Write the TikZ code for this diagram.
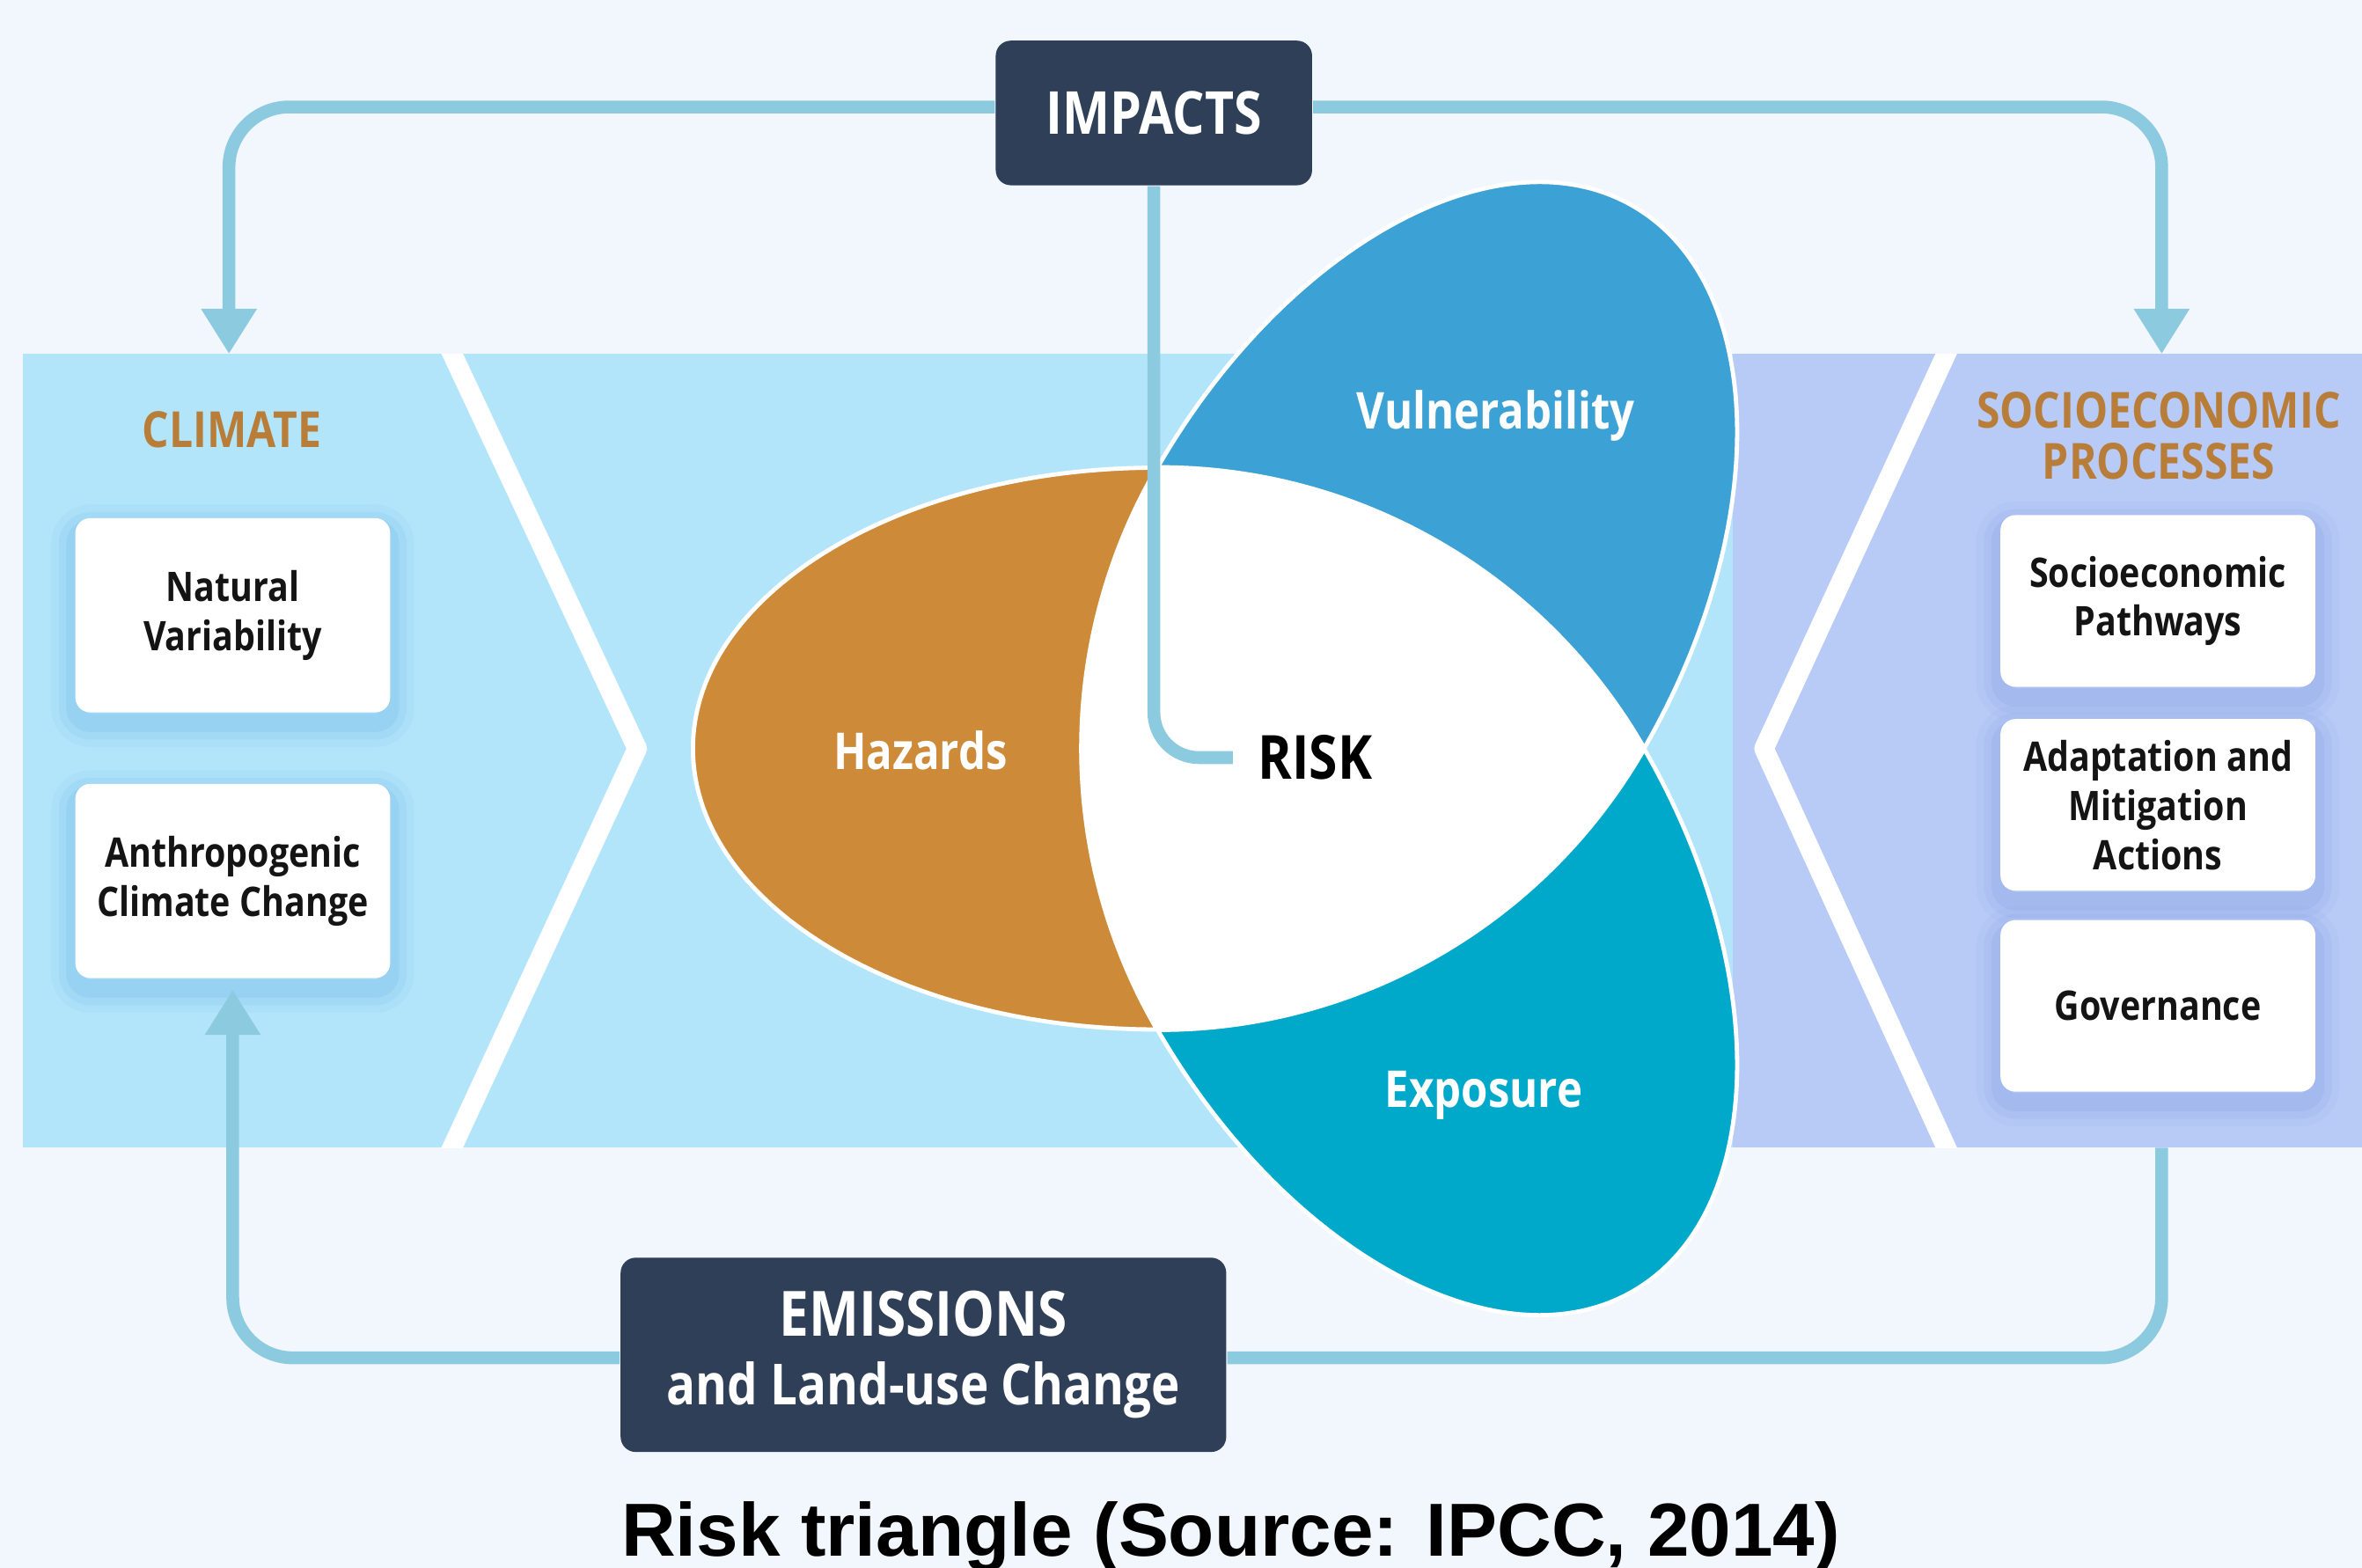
\documentclass[tikz,border=0pt]{standalone}
\usepackage{fontspec}
\setmainfont{Open Sans}[FakeStretch=0.85]
\newfontfamily\notefont{Liberation Sans}
\usetikzlibrary{arrows.meta,positioning}

\definecolor{paper}{HTML}{F2F6FD}
\definecolor{climband}{HTML}{B3E5FA}
\definecolor{socioband}{HTML}{B8CBF7}
\definecolor{linkblue}{HTML}{8CCBDF}
\definecolor{navy}{HTML}{2E3F57}
\definecolor{hazard}{HTML}{CD8B3A}
\definecolor{vulner}{HTML}{3CA1D4}
\definecolor{expos}{HTML}{00A9C9}
\definecolor{headbrown}{HTML}{B97D3A}
\definecolor{climshade}{HTML}{5FAEE3}
\definecolor{socioshade}{HTML}{7F98E0}

\begin{document}
\begin{tikzpicture}[
    link/.style={draw=linkblue, line width=0.85mm, rounded corners=4mm},
    arrowed/.style={-{Triangle[width=3.5mm,length=3mm]}},
    darkbox/.style={fill=navy, rounded corners=1mm, text=white, align=center},
    panelbox/.style={fill=white, rounded corners=1mm, minimum width=2.09cm,
        minimum height=1.29cm, align=center, text=black!92,
        font=\bfseries\fontsize{7.7}{9.3}\selectfont,
        preaction={draw=#1, opacity=.08, line width=3.2mm, transform canvas={yshift=-.7mm}},
        preaction={draw=#1, opacity=.12, line width=2.2mm, transform canvas={yshift=-.7mm}},
        preaction={draw=#1, opacity=.16, line width=1.2mm, transform canvas={yshift=-.7mm}}},
    headline/.style={text=headbrown, align=center, font=\bfseries\fontsize{9.4}{9.7}\selectfont},
    petallabel/.style={text=white, anchor=base, font=\bfseries\fontsize{9.6}{10}\selectfont}
]
    % canvas and the two bands
    \fill[paper] (0,0) rectangle (15.68,10.41);
    \useasboundingbox (0,0) rectangle (15.68,10.41);
    \fill[climband] (0.15,2.79) rectangle (11.50,8.06);
    \fill[socioband] (11.50,2.79) rectangle (15.68,8.06);
    \begin{scope}
        \clip (0.15,2.79) rectangle (15.68,8.06);
        \draw[white, line width=1.3mm, line join=round] (2.89,8.30) -- (4.23,5.44) -- (2.89,2.55);
        \draw[white, line width=1.3mm, line join=round] (13.03,8.30) -- (11.71,5.44) -- (13.03,2.55);
    \end{scope}

    % white centre, then the three petals around it
    \fill[white] (8.76,5.44) circle (2.15);
    \foreach \ang/\col in {180/hazard, 60/vulner, -60/expos}
        \filldraw[fill=\col, draw=white, line width=0.8pt, shift={(8.76,5.44)}, rotate=\ang]
            (1.08,1.865) arc[start angle=90, end angle=-90, x radius=3.08, y radius=1.865]
            arc[start angle=-30.16, end angle=30.16, radius=3.712] -- cycle;
    \node[petallabel] (hazards) at (6.11,5.30) {Hazards};
    \node[petallabel] (vulnerability) at (9.93,7.56) {Vulnerability};
    \node[petallabel] (exposure) at (9.85,3.06) {Exposure};
    \node[inner sep=0pt, font=\bfseries\fontsize{11.5}{12}\selectfont] (risk) at (8.73,5.38) {RISK};

    % climate side
    \node[headline] (climate) at (1.54,7.56) {CLIMATE};
    \node[panelbox=climshade] (natvar) at (1.545,6.325) {Natural\\Variability};
    \node[panelbox=climshade, below=0.46cm of natvar] (anthro) {Anthropogenic\\Climate Change};

    % socioeconomic side
    \node[headline] (socio) at (14.33,7.515) {SOCIOECONOMIC\\PROCESSES};
    \node[panelbox=socioshade, minimum height=1.14cm] (pathways) at (14.325,6.42) {Socioeconomic\\Pathways};
    \node[panelbox=socioshade, minimum height=1.14cm, below=0.2cm of pathways] (adapt) {Adaptation and\\Mitigation\\Actions};
    \node[panelbox=socioshade, minimum height=1.14cm, below=0.18cm of adapt] (governance) {Governance};

    % drivers
    \node[darkbox, minimum width=2.10cm, minimum height=0.96cm,
        font=\bfseries\fontsize{11.2}{12}\selectfont] (impacts) at (7.66,9.66) {IMPACTS};
    \node[darkbox, minimum width=4.02cm, minimum height=1.29cm,
        font=\bfseries\fontsize{11.8}{13}\selectfont] (emissions) at (6.13,1.415)
        {EMISSIONS\\\fontsize{10.7}{11.4}\selectfont and Land-use Change};

    % loops
    \coordinate (climin) at (1.52,8.06);
    \coordinate (socioin) at (14.35,8.06);
    \coordinate (socioout) at (14.35,2.79);
    \draw[link, arrowed] ([yshift=.4mm]impacts.west) -| (climin);
    \draw[link, arrowed] ([yshift=.4mm]impacts.east) -| (socioin);
    \draw[link, rounded corners=3mm] (impacts.south) |- ([xshift=-1.6mm]risk.west);
    \draw[link, arrowed, shorten >=0.7mm] ([yshift=-.2mm]emissions.west) -| (anthro.south);
    \draw[link] ([yshift=-.2mm]emissions.east) -| (socioout);

    \node[anchor=base, font=\notefont\bfseries\fontsize{14.2}{17}\selectfont] (caption)
        at (8.17,0.08) {Risk triangle (Source: IPCC, 2014)};
\end{tikzpicture}
\end{document}
